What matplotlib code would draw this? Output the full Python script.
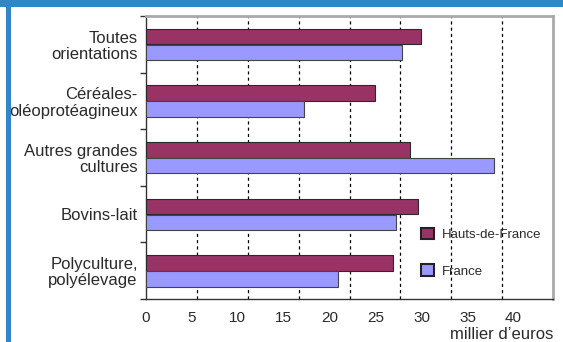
import numpy as np
import matplotlib
matplotlib.use("Agg")
import matplotlib.pyplot as plt
from matplotlib.patches import Rectangle

plt.rcParams['font.family'] = ['Liberation Sans', 'DejaVu Sans']

# === Données (millier d'euros) ===
categories = ["Toutes\norientations", "Céréales-\noléoprotéagineux",
              "Autres grandes\ncultures", "Bovins-lait",
              "Polyculture,\npolyélevage"]
hauts_de_france = [29.9, 24.9, 28.7, 29.6, 26.9]
france = [27.9, 17.2, 37.9, 27.2, 20.9]
tick_values = [0, 5, 10, 15, 20, 25, 30, 35, 40]
x_max = 44.3

col_hdf = "#993366"
col_fr = "#9999FF"
bleu = "#2F87C6"

fig = plt.figure(figsize=(5.63, 3.42), dpi=100)
fig.patch.set_facecolor("white")

# === Cadre bleu (bandeau haut + bord gauche) ===
fig.add_artist(Rectangle((0, 1 - 7 / 342), 1, 7 / 342, transform=fig.transFigure,
                         facecolor=bleu, edgecolor="none"))
fig.add_artist(Rectangle((5.5 / 563, 0), 5.5 / 563, 1, transform=fig.transFigure,
                         facecolor=bleu, edgecolor="none"))

ax = fig.add_axes([146 / 563, 43 / 342, 407 / 563, 283 / 342])

y = np.arange(len(categories))
h = 0.275
ax.barh(y - 0.135, hauts_de_france, height=h, color=col_hdf,
        edgecolor="#2a2a2a", linewidth=0.8, label="Hauts-de-France", zorder=3)
ax.barh(y + 0.145, france, height=h, color=col_fr,
        edgecolor="#444444", linewidth=0.8, label="France", zorder=3)

ax.set_ylim(len(categories) - 0.5, -0.5)
ax.set_xlim(0, x_max)

# === Axe Y : libellés + petits traits entre catégories ===
ax.set_yticks(y)
ax.set_yticklabels(categories, fontsize=12, color="#2a2a2a", linespacing=1.1)
ax.tick_params(axis="y", which="major", length=0, pad=6)
ax.set_yticks(np.arange(-0.5, len(categories)), minor=True)
ax.tick_params(axis="y", which="minor", length=4, width=1, color="#333333")

# === Axe X : quadrillage en 8 parts, libellés 0..40 ===
grid_pos = np.linspace(0, x_max, 9)[1:-1]
for gx in grid_pos:
    ax.axvline(gx, color="black", lw=0.9, linestyle=(0, (2.5, 2.5)), zorder=1)
ax.set_xticks(tick_values)
ax.set_xticklabels([str(v) for v in tick_values], fontsize=11, color="#2a2a2a")
ax.tick_params(axis="x", length=0, pad=9)
ax.set_xlabel("millier d\u2019euros", fontsize=12, color="#2a2a2a")
ax.xaxis.set_label_coords(1.0, -0.1)
ax.xaxis.label.set_ha("right")
ax.xaxis.label.set_va("top")

for s in ["top", "right"]:
    ax.spines[s].set_color("#aaaaaa")
    ax.spines[s].set_linewidth(2)
for s in ["left", "bottom"]:
    ax.spines[s].set_color("#333333")
    ax.spines[s].set_linewidth(1)

leg = ax.legend(loc="upper left", bbox_to_anchor=(0.676, 0.252), frameon=False,
                fontsize=9.5, handlelength=1.0, handleheight=1.0,
                handletextpad=0.6, labelspacing=1.75, borderpad=0,
                borderaxespad=0)
for t in leg.get_texts():
    t.set_color("#2a2a2a")
for p in leg.get_patches():
    p.set_linewidth(1.5)
    p.set_edgecolor("#222222")

fig.savefig("out.png", dpi=100)
